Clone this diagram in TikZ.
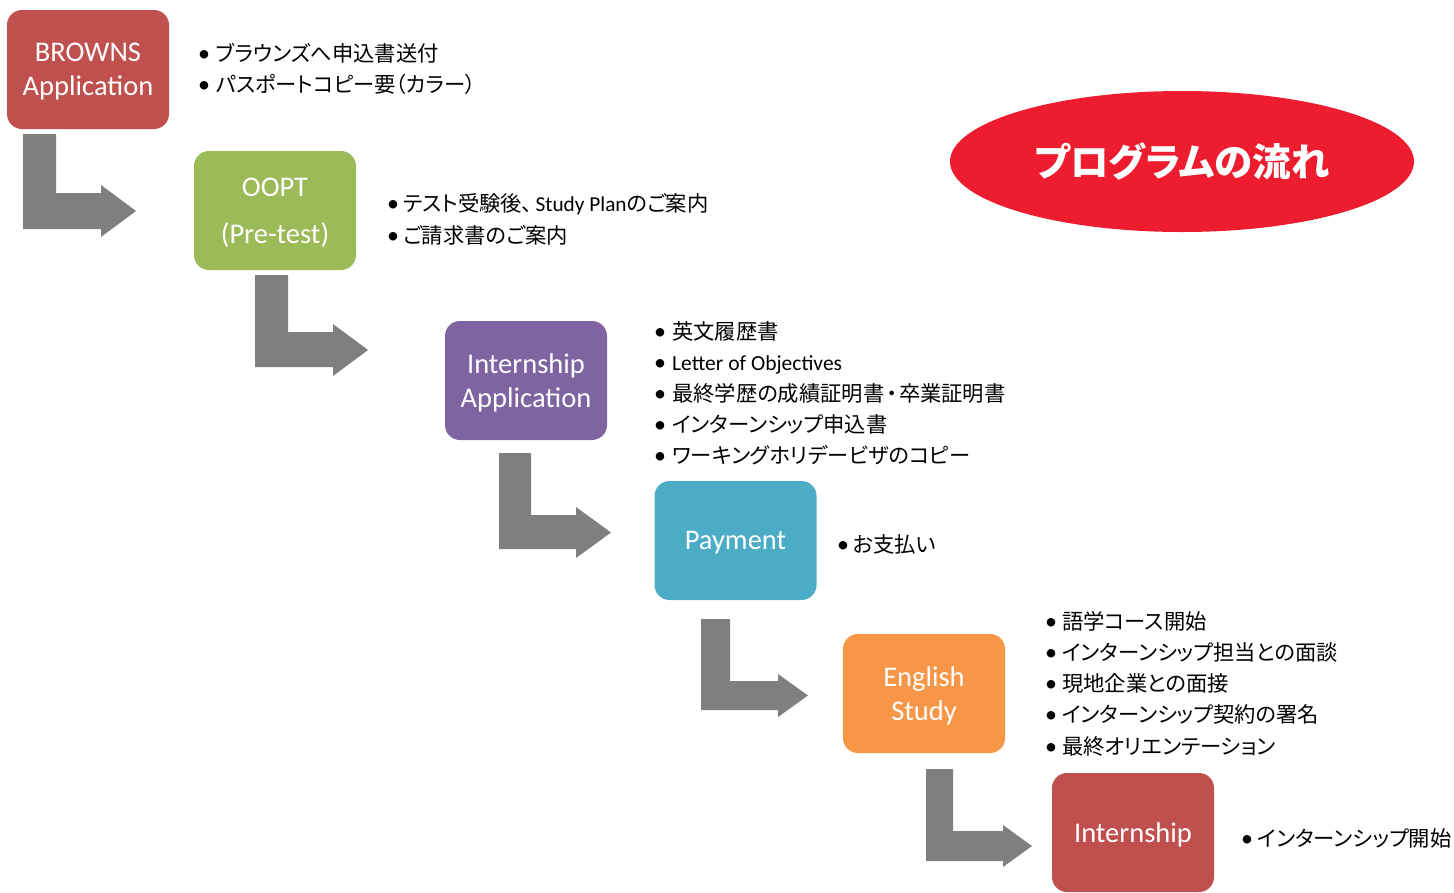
\documentclass[tikz,border=0pt]{standalone}
\usepackage{fontspec}
\setmainfont{Carlito}
\newfontfamily\jp[RawFeature=+palt]{Noto Sans CJK JP}
\newfontfamily\lat{Carlito}
\usetikzlibrary{shapes.geometric}
\definecolor{cred}{HTML}{C0504D}
\definecolor{cgreen}{HTML}{9BBB59}
\definecolor{cpurple}{HTML}{8064A2}
\definecolor{cteal}{HTML}{4BACC6}
\definecolor{corange}{HTML}{F79646}
\definecolor{cgray}{HTML}{7F7F7F}
\definecolor{ctitle}{HTML}{ED1C2E}
\newcommand{\bentarrow}[9]{%
  \fill[cgray] (#1,#3) -- (#2,#3) -- (#2,#4) -- (#6,#4) -- (#6,#7) -- (#9,{(#7+#8)/2}) -- (#6,#8) -- (#6,#5) -- (#1,#5) -- cycle;}
\newcommand{\bl}[1]{\makebox[#1pt][l]{\lat\fontsize{24}{24}\selectfont •}}
\begin{document}
\begin{tikzpicture}[x=1pt,y=-1pt,
  stepbox/.style={rectangle, rounded corners=15pt, minimum width=162pt, minimum height=119pt,
    inner sep=0pt},
  boxtext/.style={inner sep=0pt, text=white, align=center, yshift=-2.5pt,
    font=\fontsize{28.5}{34}\selectfont\lat},
  bullet/.style={anchor=west, inner sep=0pt, text height=18pt, text depth=2pt,
    font=\fontsize{21.3}{24}\selectfont\jp}]
\useasboundingbox (0,0) rectangle (1454,892);
% boxes
\node[stepbox, fill=cred] (browns) at (88,69.5) {};
\node[boxtext] (browns-t) at (browns.center) {BROWNS\\Application};
\node[stepbox, fill=cgreen] (oopt) at (275,210.5) {};
\node[boxtext] (oopt-t) at (oopt.center) {OOPT\\[13pt](Pre-test)};
\node[stepbox, fill=cpurple] (iapp) at (526,380.5) {};
\node[boxtext] (iapp-t) at (iapp.center) {Internship\\Application};
\node[stepbox, fill=cteal] (pay) at (735.5,540.5) {};
\node[boxtext] (pay-t) at (pay.center) {Payment};
\node[stepbox, fill=corange] (eng) at (924,693.5) {};
\node[boxtext] (eng-t) at (eng.center) {English\\Study};
\node[stepbox, fill=cred] (intern) at (1133,832.5) {};
\node[boxtext] (intern-t) at (intern.center) {Internship};
% title
\node[ellipse, fill=ctitle, minimum width=464pt, minimum height=141pt, inner sep=0pt,
  text=white, font=\fontsize{38.5}{40}\selectfont\jp\bfseries] (title) at (1182,161.5) {プログラムの流れ};
% arrows
\bentarrow{23}{56}{134}{193}{229}{101}{185}{237}{136}
\bentarrow{255}{288}{275}{332}{367}{333}{324}{376}{368}
\bentarrow{499}{531}{453}{515}{549}{576}{507}{558}{611}
\bentarrow{701}{730}{619}{681}{710}{778}{674}{717}{808}
\bentarrow{926}{953}{769}{831}{861}{1003}{825}{867}{1032}
% bullet lists
\node[bullet] (l1a) at (198,53) {\bl{18}ブラウンズへ申込書送付};
\node[bullet] (l1b) at (198,84) {\bl{18}パスポートコピー要（カラー）};
\node[bullet] (l2a) at (387,203) {\bl{16}テスト受験後、\hspace{3pt}{\lat Study Plan}のご案内};
\node[bullet] (l2b) at (387,235) {\bl{16}ご請求書のご案内};
\node[bullet] (l3a) at (654,331) {\bl{18}英文履歴書};
\node[bullet] (l3b) at (654,362) {\bl{18}{\lat\fontsize{21.5}{24}\selectfont Letter of Objectives}};
\node[bullet] (l3c) at (654,393) {\bl{18}最終学歴の成績証明書\hspace{2pt}・\hspace{2pt}卒業証明書};
\node[bullet] (l3d) at (654,424) {\bl{18}インターンシップ申込書};
\node[bullet] (l3e) at (654,455) {\bl{18}ワーキングホリデービザのコピー};
\node[bullet] (l4a) at (837,544) {\bl{16}お支払い};
\node[bullet] (l5a) at (1045,621) {\bl{17}語学コース開始};
\node[bullet] (l5b) at (1045,652) {\bl{17}インターンシップ担当との面談};
\node[bullet] (l5c) at (1045,683) {\bl{17}現地企業との面接};
\node[bullet] (l5d) at (1045,714) {\bl{17}インターンシップ契約の署名};
\node[bullet] (l5e) at (1045,746) {\bl{17}最終オリエンテーション};
\node[bullet] (l6a) at (1241,838) {\bl{16.5}インターンシップ開始};
\end{tikzpicture}
\end{document}
